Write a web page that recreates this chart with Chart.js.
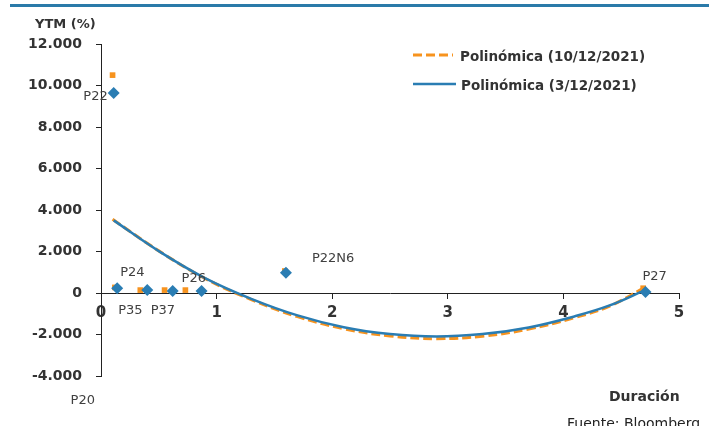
<!DOCTYPE html>
<html>
<head>
<meta charset="utf-8">
<script src="https://cdn.jsdelivr.net/npm/chart.js@4"></script>
<style>
    html, body { margin: 0; padding: 0; background: #fff; }
    #wrap { width: 717px; height: 426px; }
</style>
</head>
<body>
<div id="wrap"><canvas id="chart" width="717" height="426"></canvas></div>
<script>
// bonos al 3/12/2021 (rombos azules)
const duracion3 = [0.11, 0.14, 0.40, 0.62, 0.87, 1.60, 4.71, 0.00];
const ytm3 = [9.64, 0.23, 0.14, 0.10, 0.10, 0.98, 0.05, -5.00];
const etiquetas = ["P22", "P24", "P35", "P37", "P26", "P22N6", "P27", "P20"];

// bonos al 10/12/2021 (cuadrados naranjas)
const duracion10 = [0.10, 0.12, 0.34, 0.55, 0.73, 1.59, 4.69];
const ytm10 = [10.50, 0.27, 0.14, 0.14, 0.14, 1.06, 0.23];

// líneas de tendencia
const tendX3 = [0.11, 0.5, 0.9, 1.3, 1.7, 2.1, 2.5, 2.9, 3.3, 3.7, 4.1, 4.4, 4.71];
const tendY3 = [3.50, 2.02, 0.72, -0.28, -1.08, -1.65, -1.98, -2.10, -1.98, -1.66, -1.12, -0.60, 0.15];
const tendX10 = [0.10, 0.5, 0.9, 1.3, 1.7, 2.1, 2.5, 2.9, 3.3, 3.7, 4.1, 4.4, 4.69];
const tendY10 = [3.55, 2.03, 0.70, -0.32, -1.14, -1.72, -2.07, -2.20, -2.08, -1.74, -1.18, -0.63, 0.22];

const ticksY = [-4, -2, 0, 2, 4, 6, 8, 10, 12];
const ticksX = [0, 1, 2, 3, 4, 5];

const azul = "#2a7db3";
const naranja = "#f7931e";
const gris = "#333333";

const posEtiqueta = {
    P22: [-6, 7, "right"],
    P24: [3, -12, "left"],
    P35: [-29, 24, "left"],
    P37: [-22, 23, "left"],
    P26: [-20, -9, "left"],
    P22N6: [26, -11, "left"],
    P27: [-3, -12, "left"],
    P20: [-6, 7, "right"]
};

function puntos(xs, ys) {
    return xs.map((x, i) => ({ x: x, y: ys[i] }));
}

const extras = {
    id: "extras",
    beforeDraw(c) {
        const ctx = c.ctx;
        ctx.save();
        ctx.fillStyle = "#fff";
        ctx.fillRect(0, 0, c.width, c.height);
        ctx.fillStyle = "#2a7aa9";
        ctx.fillRect(10, 4, 699, 3);
        ctx.restore();
    },
    afterDraw(c) {
        const ctx = c.ctx;
        ctx.save();

        // etiquetas de los bonos
        ctx.font = "13px 'DejaVu Sans'";
        ctx.fillStyle = "#404040";
        ctx.textBaseline = "alphabetic";
        const meta = c.getDatasetMeta(0);
        meta.data.forEach((p, i) => {
            const pos = posEtiqueta[etiquetas[i]];
            ctx.textAlign = pos[2];
            ctx.fillText(etiquetas[i], p.x + pos[0], p.y + pos[1]);
        });

        // leyenda
        ctx.lineWidth = 3;
        ctx.strokeStyle = naranja;
        ctx.setLineDash([9, 4]);
        ctx.beginPath();
        ctx.moveTo(413, 55);
        ctx.lineTo(453, 55);
        ctx.stroke();
        ctx.setLineDash([]);
        ctx.lineWidth = 2.5;
        ctx.strokeStyle = azul;
        ctx.beginPath();
        ctx.moveTo(413, 84);
        ctx.lineTo(456, 84);
        ctx.stroke();

        ctx.textAlign = "left";
        ctx.fillStyle = gris;
        ctx.font = "bold 13.5px 'DejaVu Sans'";
        ctx.fillText("Polinómica (10/12/2021)", 460, 61);
        ctx.fillText("Polinómica (3/12/2021)", 461, 90);

        // textos de ejes
        ctx.font = "bold 13px 'DejaVu Sans'";
        ctx.fillText("YTM (%)", 35, 28);
        ctx.font = "bold 14px 'DejaVu Sans'";
        ctx.fillText("Duración", 609, 401);
        ctx.font = "14px 'DejaVu Sans'";
        ctx.fillStyle = "#222";
        ctx.fillText("Fuente: Bloomberg", 567, 428);
        ctx.restore();
    }
};

const ctx = document.getElementById("chart").getContext("2d");
chart = new Chart(ctx, {
    type: "scatter",
    data: {
        datasets: [{
            label: "3/12/2021",
            data: puntos(duracion3, ytm3),
            pointStyle: "rectRot",
            pointRadius: 6,
            backgroundColor: azul,
            borderColor: azul,
            borderWidth: 0,
            order: 0
        }, {
            label: "10/12/2021",
            data: puntos(duracion10, ytm10),
            pointStyle: "rect",
            pointRadius: 4,
            backgroundColor: naranja,
            borderColor: naranja,
            borderWidth: 0,
            order: 1
        }, {
            label: "Polinómica (3/12/2021)",
            data: puntos(tendX3, tendY3),
            showLine: true,
            pointRadius: 0,
            borderColor: azul,
            borderWidth: 2.5,
            tension: 0.4,
            order: 2
        }, {
            label: "Polinómica (10/12/2021)",
            data: puntos(tendX10, tendY10),
            showLine: true,
            pointRadius: 0,
            borderColor: naranja,
            borderWidth: 3,
            borderDash: [9, 4],
            tension: 0.4,
            order: 3
        }]
    },
    options: {
        responsive: false,
        animation: false,
        layout: { padding: { top: 44, right: 38, bottom: 50, left: 0 } },
        plugins: {
            legend: { display: false },
            tooltip: { enabled: false }
        },
        scales: {
            x: {
                type: "linear",
                position: { y: 0 },
                min: 0,
                max: 5,
                afterFit: s => { s.height = 0; },
                afterBuildTicks: s => { s.ticks = ticksX.map(v => ({ value: v })); },
                grid: { drawOnChartArea: false, tickLength: 5, color: "#222" },
                border: { color: "#222", width: 1 },
                ticks: {
                    padding: 6,
                    color: gris,
                    font: { family: "DejaVu Sans", size: 15, weight: "bold" }
                }
            },
            y: {
                type: "linear",
                position: "left",
                min: -4,
                max: 12,
                afterFit: s => { s.width = 101; },
                afterBuildTicks: s => { s.ticks = ticksY.map(v => ({ value: v })); },
                grid: { drawOnChartArea: false, tickLength: 5, color: "#222" },
                border: { color: "#222", width: 1 },
                ticks: {
                    padding: 14,
                    color: gris,
                    font: { family: "DejaVu Sans", size: 14, weight: "bold" },
                    callback: v => v === 0 ? "0" : v.toFixed(3)
                }
            }
        }
    },
    plugins: [extras]
});
</script>
</body>
</html>
